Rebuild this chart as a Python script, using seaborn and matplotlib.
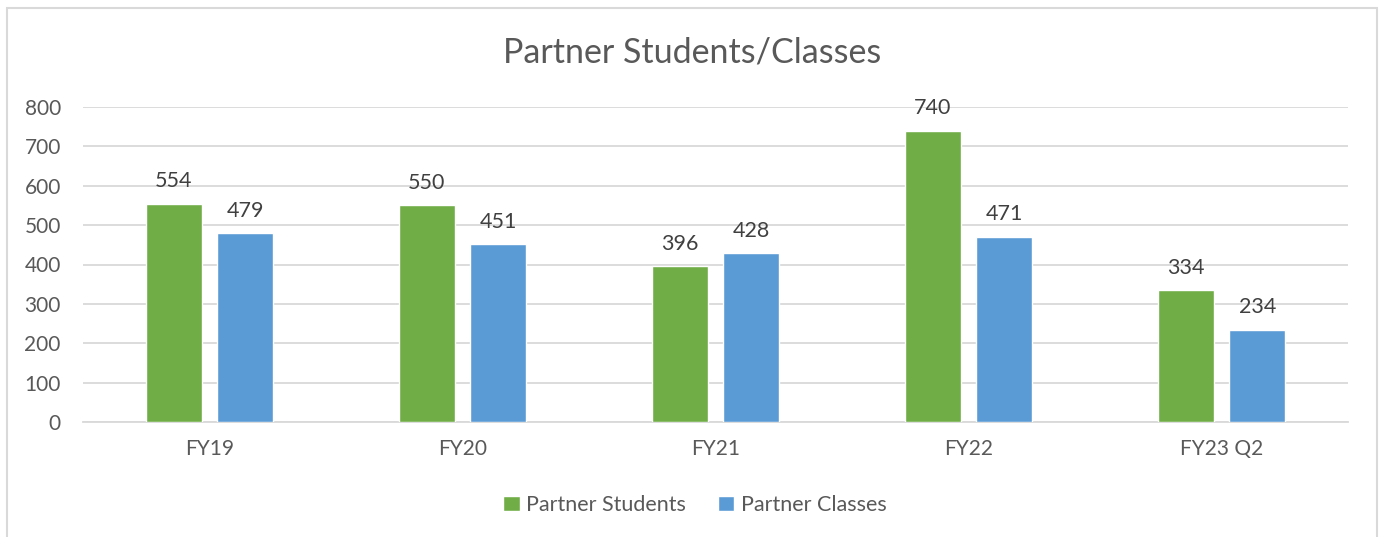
import matplotlib
matplotlib.use("Agg")
import matplotlib.pyplot as plt
import seaborn as sns
import pandas as pd
from matplotlib.patches import Rectangle

categories = ["FY19", "FY20", "FY21", "FY22", "FY23 Q2"]
series_names = ["Partner Students", "Partner Classes"]
students = [554, 550, 396, 740, 334]
classes = [479, 451, 428, 471, 234]
yticks = [0, 100, 200, 300, 400, 500, 600, 700, 800]

df = pd.DataFrame({
    "cat": categories * 2,
    "series": [series_names[0]] * len(categories) + [series_names[1]] * len(categories),
    "value": students + classes,
})

sns.set_theme(style="white")
plt.rcParams["font.family"] = ["Lato", "DejaVu Sans"]
text_color = "#595959"

W, H = 1382, 537
fig = plt.figure(figsize=(W / 100, H / 100), dpi=100)
ax = fig.add_axes([83 / W, 1 - 422 / H, (1348 - 83) / W, (422 - 107) / H])

sns.barplot(data=df, x="cat", y="value", hue="series", order=categories,
            hue_order=series_names, palette=["#70AD47", "#5B9BD5"],
            width=0.569, gap=0.222, ax=ax, legend=True, errorbar=None,
            saturation=1, zorder=3)

ax.set_ylim(0, 800)
ax.set_xlim(-0.5, len(categories) - 0.5)
ax.set_yticks(yticks)
ax.set_yticklabels([str(v) for v in yticks], fontsize=15, color=text_color)
ax.set_xticklabels(categories, fontsize=15, color=text_color)
ax.tick_params(axis="y", length=0, pad=16)
ax.tick_params(axis="x", length=0, pad=12)
ax.set_xlabel("")
ax.set_ylabel("")
ax.grid(axis="y", color="#D9D9D9", linewidth=1.3, zorder=0)
ax.set_axisbelow(True)
for s in ["top", "right", "left"]:
    ax.spines[s].set_visible(False)
ax.spines["bottom"].set_color("#D9D9D9")
ax.spines["bottom"].set_linewidth(1.3)

for cont in ax.containers:
    ax.bar_label(cont, labels=[f"{int(v)}" for v in cont.datavalues],
                 padding=9, fontsize=15.5, color="#404040")

handles, labels = ax.get_legend_handles_labels()
ax.legend_.remove()
fig.legend(handles, labels, loc="center", bbox_to_anchor=(695 / W, 1 - 505 / H),
           ncol=2, frameon=False, fontsize=15.5, handlelength=0.75, handleheight=0.75,
           handletextpad=0.3, columnspacing=1.5, labelcolor=text_color)

fig.text(692 / W, 1 - 52 / H, "Partner Students/Classes", ha="center", va="center",
         fontsize=24.5, color=text_color)

fig.patches.append(Rectangle((7 / W, -0.05), (1377 - 7) / W, (537 - 8) / H + 0.05,
                             transform=fig.transFigure, fill=False,
                             edgecolor="#D9D9D9", linewidth=1.5))

fig.savefig("out.png", dpi=100)
